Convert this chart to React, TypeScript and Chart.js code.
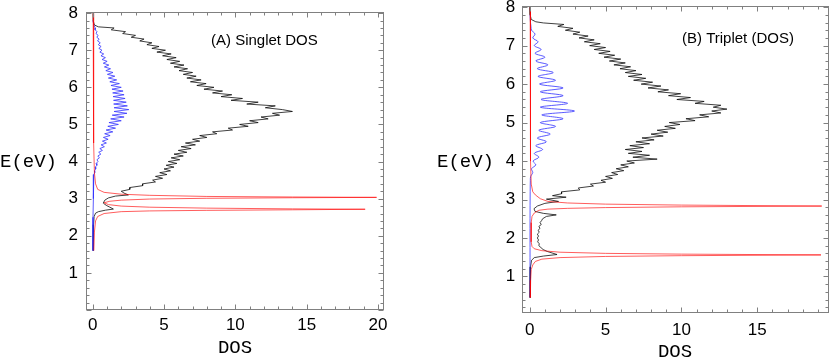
import React, { useEffect, useRef } from 'react';
import { Chart, registerables } from 'chart.js';

Chart.register(...registerables);
Chart.defaults.font.family = '"Liberation Sans", Arial, sans-serif';

// ---------- shared labels / ticks ----------
const X_LABEL = 'DOS';
const Y_LABEL = 'E(eV)';
const Y_TICKS = [1, 2, 3, 4, 5, 6, 7, 8];
const A_X_TICKS = [0, 5, 10, 15, 20];
const B_X_TICKS = [0, 5, 10, 15];
const A_TITLE = '(A) Singlet DOS';
const B_TITLE = '(B) Triplet (DOS)';

// ---------- Panel A: energy grids ----------
const A_GRID = [
  7.60, 7.55, 7.50, 7.45, 7.40, 7.35, 7.30, 7.25, 7.20, 7.15,
  7.10, 7.05, 7.00, 6.95, 6.90, 6.85, 6.80, 6.75, 6.70, 6.65,
  6.60, 6.55, 6.50, 6.45, 6.40, 6.35, 6.30, 6.25, 6.20, 6.15,
  6.10, 6.05, 6.00, 5.95, 5.90, 5.85, 5.80, 5.75, 5.70, 5.65,
  5.60, 5.55, 5.50, 5.45, 5.40, 5.35, 5.30, 5.25, 5.20, 5.15,
  5.10, 5.05, 5.00, 4.95, 4.90, 4.85, 4.80, 4.75, 4.70, 4.65,
  4.60, 4.55, 4.50, 4.45, 4.40, 4.35, 4.30, 4.25, 4.20, 4.15,
  4.10, 4.05, 4.00, 3.95, 3.90, 3.85, 3.80, 3.75, 3.70, 3.65,
  3.60, 3.55, 3.50, 3.45, 3.40, 3.35, 3.30, 3.25, 3.20,
];
const A_BLUE_GRID = [
  7.60, 7.55, 7.50, 7.45, 7.40, 7.35, 7.30, 7.25, 7.20, 7.15,
  7.10, 7.05, 7.00, 6.95, 6.90, 6.85, 6.80, 6.75, 6.70, 6.65,
  6.60, 6.55, 6.50, 6.45, 6.40, 6.35, 6.30, 6.25, 6.20, 6.15,
  6.10, 6.05, 6.00, 5.95, 5.90, 5.85, 5.80, 5.75, 5.70, 5.65,
  5.60, 5.55, 5.50, 5.45, 5.40, 5.35, 5.30, 5.25, 5.20, 5.15,
  5.10, 5.05, 5.00, 4.95, 4.90, 4.85, 4.80, 4.75, 4.70, 4.65,
  4.60, 4.55, 4.50, 4.45, 4.40, 4.35, 4.30, 4.25, 4.20, 4.15,
  4.10, 4.05, 4.00, 3.95, 3.90, 3.85, 3.80, 3.75, 3.70, 3.65,
  3.60,
];

// Panel A black (total DOS)
const A_BLACK_E = [
  8.0, 7.8, 7.68, 7.63,
  ...A_GRID,
  3.15, 3.10, 3.07, 3.02, 2.96, 2.88, 2.82, 2.77, 2.72, 2.69, 2.65, 2.61, 2.52, 2.3, 2.0, 1.6,
];
const A_BLACK_DOS = [
  0.02, 0.03, 0.12, 0.4,
  1.5, 1.3, 2.3, 2.1, 3.0, 2.7, 3.6, 3.3, 4.15, 3.8,
  4.65, 4.15, 5.1, 4.5, 5.5, 4.9, 5.85, 5.2, 6.1, 5.45,
  6.4, 5.7, 6.65, 6.05, 7.0, 6.35, 7.25, 6.6, 7.6, 6.85,
  7.95, 7.3, 8.5, 7.8, 9.1, 8.4, 9.75, 9.0, 10.5, 9.7,
  11.6, 10.8, 12.8, 12.1, 13.3, 14.0, 12.6, 13.1, 11.8, 12.3,
  11.0, 11.6, 10.3, 10.9, 9.5, 9.8, 8.4, 8.7, 7.5, 8.0,
  7.0, 7.5, 6.5, 7.2, 6.2, 6.9, 6.0, 6.6, 5.7, 6.35,
  5.5, 6.1, 5.3, 5.9, 5.15, 5.7, 5.0, 5.45, 4.7, 5.2,
  4.4, 4.9, 4.2, 4.4, 3.5, 3.5, 2.6, 2.6, 2.0,
  2.2, 2.5, 1.6, 1.1, 0.85, 0.74, 0.95, 1.2, 1.45, 0.9, 0.4, 0.2, 0.1, 0.06, 0.04, 0.03,
];

// Panel A blue
const A_BLUE_E = [7.8, 7.68, ...A_BLUE_GRID, 3.5, 3.3, 3.0, 2.5, 1.6];
const A_BLUE_DOS = [
  0.01, 0.08,
  0.18, 0.17, 0.30, 0.23, 0.38, 0.29, 0.45, 0.34, 0.53, 0.39,
  0.59, 0.43, 0.65, 0.5, 0.77, 0.58, 0.89, 0.66, 1.01, 0.74,
  1.13, 0.82, 1.25, 0.92, 1.42, 1.03, 1.55, 1.10, 1.68, 1.20,
  1.87, 1.28, 2.0, 1.35, 2.13, 1.40, 2.2, 1.43, 2.27, 1.46,
  2.35, 1.47, 2.43, 1.5, 2.53, 1.5, 2.4, 1.37, 2.2, 1.26,
  2.0, 1.14, 1.8, 1.06, 1.6, 0.94, 1.41, 0.84, 1.22, 0.75,
  1.08, 0.68, 0.96, 0.59, 0.82, 0.50, 0.68, 0.42, 0.57, 0.36,
  0.47, 0.30, 0.37, 0.24, 0.29, 0.18, 0.21, 0.13, 0.14, 0.08,
  0.07,
  0.05, 0.04, 0.03, 0.02, 0.02,
];

// Panel A red
const A_RED_E = [
  8.0, 6.0, 4.5, 3.7, 3.4, 3.25, 3.17, 3.12, 3.09, 3.06, 3.045, 3.035, 3.025, 3.01, 2.99,
  2.96, 2.93, 2.89, 2.84, 2.80, 2.77, 2.745, 2.725, 2.715, 2.70, 2.685, 2.67, 2.65, 2.6,
  2.52, 2.4, 2.1, 1.6,
];
const A_RED_DOS = [
  0.03, 0.05, 0.08, 0.12, 0.2, 0.35, 0.8, 2.0, 4.0, 8.0, 14.0, 19.9, 14.0, 8.0, 4.0,
  2.0, 1.2, 0.8, 1.1, 2.0, 4.0, 8.0, 14.0, 19.1, 14.0, 8.0, 4.0, 2.0, 0.8,
  0.35, 0.2, 0.12, 0.08,
];

// ---------- Panel B ----------
const B_GRID = [
  7.55, 7.50, 7.45, 7.40, 7.35, 7.30, 7.25, 7.20, 7.15, 7.10,
  7.05, 7.00, 6.95, 6.90, 6.85, 6.80, 6.75, 6.70, 6.65, 6.60,
  6.55, 6.50, 6.45, 6.40, 6.35, 6.30, 6.25, 6.20, 6.15, 6.10,
  6.05, 6.00, 5.95, 5.90, 5.85, 5.80, 5.75, 5.70, 5.65, 5.60,
  5.55, 5.50, 5.45, 5.40, 5.35, 5.30, 5.25, 5.20, 5.15, 5.10,
  5.05, 5.00, 4.95, 4.90, 4.85, 4.80, 4.75, 4.70, 4.65, 4.60,
  4.55, 4.50, 4.45, 4.40, 4.35, 4.30, 4.25, 4.20, 4.15, 4.10,
  4.05, 4.00, 3.95, 3.90, 3.85, 3.80, 3.75, 3.70, 3.65, 3.60,
  3.55, 3.50, 3.45, 3.40, 3.35, 3.30, 3.25, 3.20, 3.15,
];

const B_BLACK_E = [
  8.0, 7.8, 7.68, 7.62, 7.59,
  ...B_GRID,
  3.10, 3.06, 3.01, 2.95, 2.90, 2.83, 2.76, 2.69, 2.64, 2.60, 2.56, 2.50, 2.45, 2.40, 2.35,
  2.30, 2.25, 2.20, 2.15, 2.10, 2.05, 2.00, 1.95, 1.90, 1.85, 1.80, 1.75, 1.70, 1.65, 1.57,
  1.53, 1.49, 1.42, 1.25, 0.9, 0.45,
];
const B_BLACK_DOS = [
  0.02, 0.03, 0.1, 0.4, 0.9,
  2.25, 1.85, 2.85, 2.35, 3.3, 2.85, 3.85, 3.25, 4.25, 3.6,
  4.65, 3.95, 5.0, 4.25, 5.3, 4.55, 5.6, 4.9, 6.0, 5.25,
  6.3, 5.55, 6.65, 5.95, 7.0, 6.3, 7.4, 6.5, 7.65, 6.85,
  8.1, 7.35, 8.65, 7.8, 9.15, 8.45, 9.95, 9.15, 10.6, 9.7,
  11.5, 10.9, 12.6, 12.1, 13.0, 12.0, 12.6, 11.2, 11.8, 10.3,
  10.9, 9.2, 9.9, 8.9, 9.6, 8.4, 9.1, 8.0, 8.8, 7.4,
  8.2, 7.0, 7.9, 6.6, 7.5, 6.3, 7.4, 6.5, 7.9, 6.8,
  8.4, 6.4, 6.9, 6.0, 6.5, 5.7, 6.2, 5.4, 5.8, 5.0,
  5.45, 4.7, 5.0, 4.0, 4.2, 3.2, 3.3, 2.1, 2.1,
  1.5, 2.4, 1.1, 1.9, 1.0, 0.5, 0.28, 0.35, 0.9, 1.75, 1.1, 0.85, 0.78, 0.68, 0.76,
  0.6, 0.68, 0.55, 0.63, 0.5, 0.58, 0.5, 0.58, 0.52, 0.63, 0.6, 0.74, 0.88, 1.15, 1.8,
  0.9, 0.3, 0.12, 0.05, 0.03, 0.02,
];

const B_BLUE_E = [
  7.8, 7.6, 7.5,
  7.4, 7.3, 7.2, 7.1, 7.0, 6.9, 6.8, 6.7, 6.6, 6.5,
  6.4, 6.3, 6.2, 6.1, 6.0, 5.9, 5.8, 5.7, 5.6, 5.5,
  5.4, 5.3, 5.2, 5.1, 5.0, 4.9, 4.8, 4.7, 4.6, 4.5,
  4.4, 4.3, 4.2, 4.1, 4.0, 3.9, 3.8, 3.7, 3.6,
  3.5, 3.2, 2.5, 1.5, 0.45,
];
const B_BLUE_DOS = [
  0.02, 0.05, 0.08,
  0.12, 0.35, 0.2, 0.55, 0.3, 0.75, 0.35, 1.0, 0.4, 1.2,
  0.5, 1.55, 0.55, 1.7, 0.65, 2.2, 0.7, 2.2, 0.75, 2.5,
  0.7, 2.95, 0.8, 2.2, 0.7, 1.7, 0.6, 1.35, 0.5, 1.1,
  0.4, 0.85, 0.3, 0.6, 0.22, 0.4, 0.12, 0.2, 0.06,
  0.04, 0.03, 0.02, 0.02, 0.02,
];

const B_RED_E = [
  8.0, 6.0, 4.0, 3.4, 3.2, 3.12, 3.02, 2.95, 2.91, 2.88, 2.855, 2.83, 2.81, 2.79, 2.77,
  2.75, 2.72, 2.65, 2.56, 2.4, 2.1, 1.9, 1.78, 1.72, 1.67, 1.63, 1.60, 1.58, 1.56, 1.54,
  1.52, 1.49, 1.45, 1.39, 1.3, 1.18, 0.9, 0.45,
];
const B_RED_DOS = [
  0.03, 0.04, 0.06, 0.1, 0.2, 0.37, 0.7, 1.2, 2.5, 5, 10, 19.25, 10, 5, 2.5,
  1.2, 0.6, 0.3, 0.15, 0.1, 0.09, 0.1, 0.15, 0.3, 0.8, 2, 5, 10, 19.2, 10,
  5, 2, 0.8, 0.37, 0.2, 0.1, 0.06, 0.04,
];

// ---------- helpers ----------
const pts = (e: number[], d: number[]) => e.map((v, i) => ({ x: d[i], y: v }));

const decorPlugin = {
  id: 'decor',
  afterDatasetsDraw(chart: any) {
    const o = chart.options.plugins.decor;
    const { ctx, chartArea: a } = chart;
    const xs = chart.scales.x;
    const ys = chart.scales.y;
    ctx.save();
    ctx.strokeStyle = '#808080';
    ctx.lineWidth = 1;
    const L = Math.round(a.left) + 0.5;
    const R = Math.round(a.right) - 0.5;
    const T = Math.round(a.top) + 0.5;
    const B = Math.round(a.bottom) - 0.5;
    ctx.strokeRect(L, T, R - L, B - T);
    ctx.beginPath();
    for (let v = Math.ceil(xs.min); v <= xs.max; v += 1) {
      const len = Math.abs(v) % 5 === 0 ? 5 : 3;
      const px = Math.round(xs.getPixelForValue(v)) + 0.5;
      ctx.moveTo(px, B); ctx.lineTo(px, B - len);
      ctx.moveTo(px, T); ctx.lineTo(px, T + len);
    }
    for (let k = Math.ceil(ys.min * 5); k <= ys.max * 5; k++) {
      const v = k / 5;
      const len = k % 5 === 0 ? 5 : 3;
      const py = Math.round(ys.getPixelForValue(v)) + 0.5;
      ctx.moveTo(L, py); ctx.lineTo(L + len, py);
      ctx.moveTo(R, py); ctx.lineTo(R - len, py);
    }
    ctx.stroke();

    ctx.fillStyle = '#000';
    ctx.textBaseline = 'middle';
    ctx.font = '19px "Liberation Mono", "DejaVu Sans Mono", monospace';
    ctx.textAlign = 'left';
    ctx.fillText(Y_LABEL, o.yLabelX, o.yLabelY);
    ctx.textAlign = 'center';
    ctx.fillText(X_LABEL, o.xLabelX, o.xLabelY);
    ctx.font = '15px "Liberation Sans", Arial, sans-serif';
    ctx.textAlign = 'left';
    ctx.fillText(o.title, o.titleX, o.titleY);
    ctx.restore();
  },
};

type PanelCfg = {
  left: number;
  black: { x: number; y: number }[];
  blue: { x: number; y: number }[];
  red: { x: number; y: number }[];
  xMin: number; xMax: number; yMin: number; yMax: number;
  xTicks: number[];
  yAxisWidth: number; xAxisHeight: number;
  padTop: number; padRight: number;
  xTickPad: number; yTickPad: number;
  blueTension: number;
  decor: any;
};

function Panel({ cfg }: { cfg: PanelCfg }) {
  const ref = useRef<HTMLCanvasElement>(null);
  useEffect(() => {
    const line = (color: string, data: any[], width: number, tension = 0) => ({
      data,
      showLine: true,
      borderColor: color,
      borderWidth: width,
      borderJoinStyle: 'round' as const,
      pointRadius: 0,
      tension,
      fill: false,
    });
    const chart = new Chart(ref.current as HTMLCanvasElement, {
      type: 'scatter',
      data: {
        datasets: [
          line('rgba(255,0,0,0.8)', cfg.red, 0.8),
          line('rgb(50,50,255)', cfg.blue, 0.8, cfg.blueTension),
          line('rgb(0,0,0)', cfg.black, 0.75),
        ] as any,
      },
      plugins: [decorPlugin as any],
      options: {
        animation: false,
        responsive: false,
        devicePixelRatio: 1,
        events: [],
        layout: { padding: { top: cfg.padTop, right: cfg.padRight, left: 0, bottom: 0 } },
        plugins: {
          legend: { display: false },
          tooltip: { enabled: false },
          decor: cfg.decor,
        } as any,
        scales: {
          x: {
            type: 'linear',
            min: cfg.xMin,
            max: cfg.xMax,
            grid: { display: false, drawTicks: false },
            border: { display: false },
            ticks: {
              padding: cfg.xTickPad,
              color: '#000',
              font: { size: 17 },
              maxRotation: 0,
              autoSkip: false,
              callback: (v: any) => String(v),
            },
            afterBuildTicks: (s: any) => { s.ticks = cfg.xTicks.map((v) => ({ value: v })); },
            afterFit: (s: any) => {
              s.height = cfg.xAxisHeight;
              s.paddingLeft = 0; s.paddingRight = 0; s.paddingTop = 0; s.paddingBottom = 0;
            },
          },
          y: {
            type: 'linear',
            min: cfg.yMin,
            max: cfg.yMax,
            grid: { display: false, drawTicks: false },
            border: { display: false },
            ticks: {
              padding: cfg.yTickPad,
              color: '#000',
              font: { size: 17 },
              autoSkip: false,
              callback: (v: any) => String(v),
            },
            afterBuildTicks: (s: any) => { s.ticks = Y_TICKS.map((v) => ({ value: v })); },
            afterFit: (s: any) => {
              s.width = cfg.yAxisWidth;
              s.paddingLeft = 0; s.paddingRight = 0; s.paddingTop = 0; s.paddingBottom = 0;
            },
          },
        } as any,
      },
    });
    return () => chart.destroy();
  }, []);
  return (
    <canvas
      ref={ref}
      width={415}
      height={359}
      style={{ position: 'absolute', left: cfg.left, top: 0, width: 415, height: 359 }}
    />
  );
}

const PANEL_A: PanelCfg = {
  left: 0,
  black: pts(A_BLACK_E, A_BLACK_DOS),
  blue: pts(A_BLUE_E, A_BLUE_DOS),
  red: pts(A_RED_E, A_RED_DOS),
  xMin: -0.47, xMax: 20.42, yMin: 0, yMax: 8.03,
  xTicks: A_X_TICKS,
  yAxisWidth: 86, xAxisHeight: 49,
  padTop: 12, padRight: 31,
  xTickPad: 5, yTickPad: 8,
  blueTension: 0,
  decor: { title: A_TITLE, titleX: 211, titleY: 41, yLabelX: 0, yLabelY: 162, xLabelX: 235, xLabelY: 348 },
};

const PANEL_B: PanelCfg = {
  left: 415,
  black: pts(B_BLACK_E, B_BLACK_DOS),
  blue: pts(B_BLUE_E, B_BLUE_DOS),
  red: pts(B_RED_E, B_RED_DOS),
  xMin: -0.49, xMax: 19.73, yMin: 0.05, yMax: 8.03,
  xTicks: B_X_TICKS,
  yAxisWidth: 107.3, xAxisHeight: 46,
  padTop: 6, padRight: 1,
  xTickPad: 7, yTickPad: 7,
  blueTension: 0.35,
  decor: { title: B_TITLE, titleX: 267, titleY: 39, yLabelX: 22, yLabelY: 162, xLabelX: 260, xLabelY: 352 },
};

export default function App() {
  return (
    <div style={{ position: 'absolute', left: 0, top: 0, width: 830, height: 359, background: '#fff' }}>
      <Panel cfg={PANEL_A} />
      <Panel cfg={PANEL_B} />
    </div>
  );
}
